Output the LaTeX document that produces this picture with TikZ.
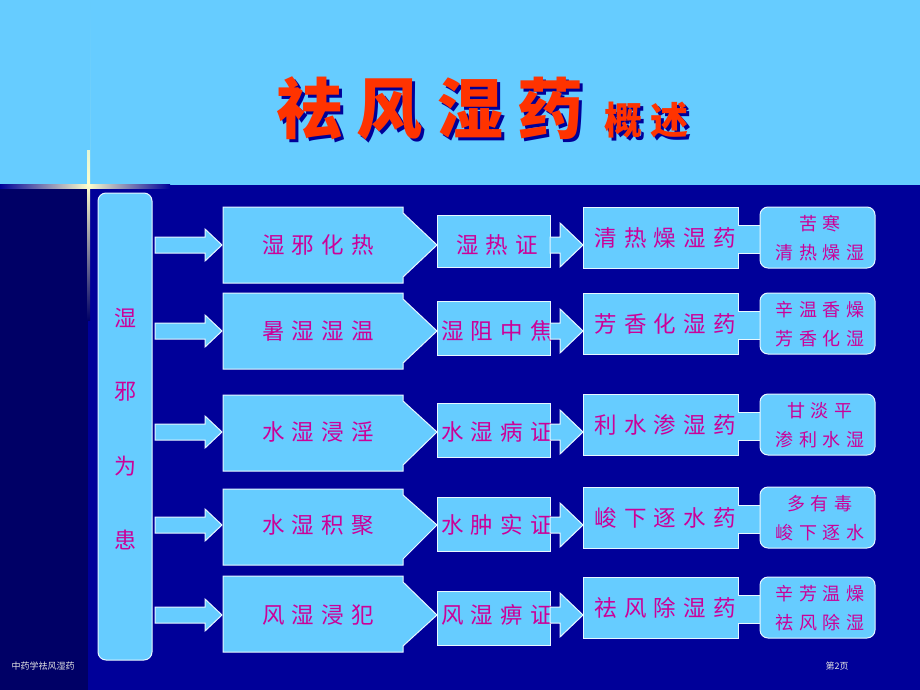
\documentclass[tikz,border=0pt]{standalone}
\usepackage{fontspec}
\newfontfamily\cjk{Noto Sans CJK SC}
\newfontfamily\cjkw[LetterSpace=32]{Noto Sans CJK SC}
\newfontfamily\cjkt[LetterSpace=22]{Noto Sans CJK SC}
\usetikzlibrary{calc}
\definecolor{lb}{HTML}{66CCFF}
\definecolor{nav}{HTML}{000099}
\definecolor{dnav}{HTML}{000066}
\definecolor{mag}{HTML}{CC0099}
\definecolor{tred}{HTML}{FF3300}
\newcommand{\shadowtxt}[1]{\rlap{\kern3pt\raisebox{-3pt}{\color{nav}#1}}\color{tred}#1}
\begin{document}
\begin{tikzpicture}[x=1pt,y=-1pt,
  shp/.style={fill=lb,draw=white!85!lb,line width=1pt},
  t/.style={text=mag,font=\cjkw\fontsize{22.5}{24}\selectfont,inner sep=0pt},
  ts/.style={text=mag,font=\cjkw\fontsize{18}{29}\selectfont,align=center,inner sep=0pt}]
\useasboundingbox (0,0) rectangle (920,690);
\fill[nav] (0,0) rectangle (920,690);
\fill[dnav] (0,185) rectangle (88,690);
\fill[lb] (0,0) rectangle (920,185);
\shade[left color=nav,right color=white!80!yellow] (0,184) rectangle (88,188);
\shade[left color=white!80!yellow,right color=nav] (88,184) rectangle (170,188);
\shade[top color=lb,bottom color=white!80!yellow] (87,0) rectangle (90,185);
\shade[top color=white!80!yellow,bottom color=dnav] (87,185) rectangle (90,320);
\fill[lb] (87,0) rectangle (90,150);
% title
\node (title) [font=\cjkt\bfseries\fontsize{66}{70}\selectfont,anchor=base west,inner sep=0pt] at (276,133) {\shadowtxt{祛风湿药}};
\node (sub) [font=\cjkt\bfseries\fontsize{38}{40}\selectfont,anchor=base west,inner sep=0pt] at (604,134) {\shadowtxt{概述}};
% left box
\draw[shp,rounded corners=8pt] (98,193) rectangle (152,660);
\foreach \c/\y in {湿/318,邪/392,为/466,患/540}
  \node[text=mag,font=\cjk\fontsize{22}{24}\selectfont] at (125,\y) {\c};
\foreach \i/\top/\bot/\ct/\cb/\cc/\a/\b/\c/\d/\e/\f in {
 1/207/283/215/267/245/湿邪化热/湿热证/清热燥湿药/苦寒/清热燥湿/r1,
 2/293/369/301/355/331/暑湿湿温/湿阻中焦/芳香化湿药/辛温香燥/芳香化湿/r2,
 3/395/471/403/457/432/水湿浸淫/水湿病证/利水渗湿药/甘淡平/渗利水湿/r3,
 4/489/565/497/551/525/水湿积聚/水肿实证/峻下逐水药/多有毒/峻下逐水/r4,
 5/576/652/591/645/615/风湿浸犯/风湿痹证/祛风除湿药/辛芳温燥/祛风除湿/r5}{
  \draw[shp] (155,\cc-8) -- (205,\cc-8) -- (205,\cc-16) -- (222,\cc) -- (205,\cc+16) -- (205,\cc+8) -- (155,\cc+8) -- cycle;
  \draw[shp] (223,\top) -- (403,\top) -- (403,\top+6) -- (437,\cc) -- (403,\bot-6) -- (403,\bot) -- (223,\bot) -- cycle;
  \node[t] (a\i) at (318,\cc) {\a};
  \draw[shp] (437,\ct) rectangle (550,\cb);
  \node[t] (b\i) at (497,\cc) {\b};
  \draw[shp] (550,\cc-8) -- (560,\cc-8) -- (560,\cc-22) -- (583,\cc) -- (560,\cc+22) -- (560,\cc+8) -- (550,\cc+8) -- cycle;
  \draw[shp] (583,\cc-38) rectangle (738,\cc+23);
  \fill[lb] (737,\cc-20) rectangle (762,\cc+8);
  \draw[white!85!lb,line width=1pt] (738,\cc-20) -- (760,\cc-20) (738,\cc+8) -- (760,\cc+8);
  \node[t] (c\i) at (665,\cc-7) {\c};
  \draw[shp,rounded corners=8pt] (760,\cc-38) rectangle (875,\cc+23);
  \node[ts] (\f) at (820,\cc-7) {\d\\\e};
}
\node[text=white!80!gray,font=\cjk\fontsize{9}{10}\selectfont,anchor=west] (f1) at (8,666) {中药学祛风湿药};
\node[text=white!80!gray,font=\cjk\fontsize{9}{10}\selectfont,anchor=west] (f2) at (822,666) {第2页};
\end{tikzpicture}
\end{document}
